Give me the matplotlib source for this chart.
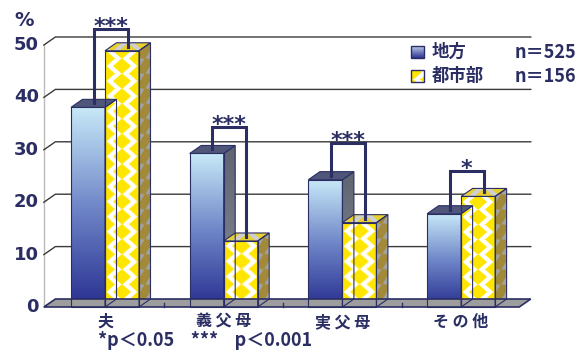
import numpy as np
import matplotlib.pyplot as plt
from matplotlib.patches import Polygon
from matplotlib.colors import LinearSegmentedColormap, to_rgb

# data (%)
categories = ['夫', '義 父 母', '実 父 母', 'そ の 他']
rural = [38.1, 29.3, 24.3, 17.8]    # 地方
urban = [48.9, 12.6, 16.1, 21.1]    # 都市部
bracket_top = [53.1, 34.4, 31.3, 26.0]
stars = ['***', '***', '***', '*']
yticks = [0, 10, 20, 30, 40, 50]
legend_names = ['地方', '都市部']
legend_n = ['n＝525', 'n＝156']
note = '*p＜0.05    ***    p＜0.001'

W, H = 582, 352
PX_X, PX_Y = 118.7, 5.24      # pixels per category / per percent
X0, Y0 = 105, 307             # pixel of first category centre / zero line
BW = 34 / PX_X
DX, DY = 11.5 / PX_X, 8 / PX_Y
NAVY = '#2b2e63'
YELLOW = np.array(to_rgb('#ffe600'))

plt.rcParams['font.family'] = ['DejaVu Sans', 'Noto Sans CJK JP']

fig = plt.figure(figsize=(W / 100, H / 100), dpi=100)
ax = fig.add_axes([0, 0, 1, 1])
ax.set_xlim(-X0 / PX_X, (W - X0) / PX_X)
ax.set_ylim(-(H - Y0) / PX_Y, Y0 / PX_Y)
ax.axis('off')


def p2d(x, y):
    return (x - X0) / PX_X, (Y0 - y) / PX_Y


def diamonds(w, h, bg, fg, shear=0.0, xc=0.0, yc=0.0):
    xs = np.arange(w) + 0.5 - xc
    ys = np.arange(h) + 0.5 - yc
    X, Y = np.meshgrid(xs, ys)
    Y = Y - shear * X
    best = np.full(X.shape, 9.0)
    for ox, oy in [(0, 0), (16, 7.5)]:
        u = (X - ox + 16) % 32 - 16
        v = (Y - oy + 7.5) % 15 - 7.5
        best = np.minimum(best, np.abs(u) / 9 + np.abs(v) / 8)
    a = np.clip((1 - best) * 6 + 0.5, 0, 1)[..., None]
    return a * np.array(fg) + (1 - a) * np.array(to_rgb(bg))


def face(pts, img=None, color=None, extent=None, lw=0.8):
    poly = Polygon(pts, closed=True, facecolor=color if color else 'none',
                   edgecolor=NAVY, lw=lw, zorder=3)
    ax.add_patch(poly)
    if img is not None:
        im = ax.imshow(img, extent=extent, origin='lower', aspect='auto',
                       interpolation='bilinear', zorder=2.9)
        im.set_clip_path(poly)
    return poly


# walls and floor
xl, xr = -0.515, 3.49
ax.plot([xl, xl], [0, 50], color='#bbbbbb', lw=1, zorder=1)
for v in yticks[1:]:
    ax.plot([xl, xl + DX, xr + DX], [v, v + DY, v + DY], color='#3a3a3a', lw=1, zorder=1)
for v in yticks:
    ax.text(xl - 5 / PX_X, v, str(v), ha='right', va='center', fontsize=13,
            fontweight='bold', color=NAVY)
face([(xl, 0), (xr, 0), (xr + DX, DY), (xl + DX, DY)], color='#9d9d9d', lw=1.2)
for k in range(1, 4):
    ax.plot([k - 0.5, k - 0.5], [0, 4 / PX_Y], color=NAVY, lw=1, zorder=3.1)
ax.text(*p2d(24, 20), '%', ha='center', va='center', fontsize=14,
        fontweight='bold', color=NAVY)

blue_cm = LinearSegmentedColormap.from_list('b', ['#283090', '#6f86c8', '#c8e9f8'])
side_cm = LinearSegmentedColormap.from_list('s', ['#878c96', '#5e6471'])
grad = np.linspace(0, 1, 256)[:, None]

for i, (r, u) in enumerate(zip(rural, urban)):
    # 地方 bar
    x0, x1 = i - BW, i
    face([(x0, 0), (x1, 0), (x1, r), (x0, r)], img=blue_cm(grad),
         extent=[x0, x1, 0, r])
    face([(x1, 0), (x1 + DX, DY), (x1 + DX, r + DY), (x1, r)],
         img=side_cm(grad), extent=[x1, x1 + DX, 0, r + DY])
    face([(x0, r), (x1, r), (x1 + DX, r + DY), (x0 + DX, r + DY)], color='#4f567a')
    # 都市部 bar
    x0, x1 = i, i + BW
    hpx = int(round(u * PX_Y))
    face([(x0, 0), (x1, 0), (x1, u), (x0, u)],
         img=diamonds(34, hpx, 'white', YELLOW, xc=17), extent=[x0, x1, 0, u])
    face([(x1, 0), (x1 + DX, DY), (x1 + DX, u + DY), (x1, u)],
         img=diamonds(12, hpx + 8, '#a3a3a3', to_rgb('#a28a3a'), shear=8 / 11.5, xc=6),
         extent=[x1, x1 + DX, 0, u + DY])
    face([(x0, u), (x1, u), (x1 + DX, u + DY), (x0 + DX, u + DY)],
         img=diamonds(46, 8, '#cfcfcf', to_rgb('#e8d030'), xc=23),
         extent=[x0, x1 + DX, u, u + DY])

    # significance bracket
    lx = i - BW / 2 + DX / 2
    rx = i + BW / 2 + DX / 2
    top = bracket_top[i]
    ax.plot([lx, lx, rx, rx], [r + DY / 2, top, top, u + DY / 2], color=NAVY,
            lw=2.2, zorder=5, solid_joinstyle='miter')
    ax.text((lx + rx) / 2, top - 4.5 / PX_Y, stars[i], ha='center', va='baseline',
            fontsize=16, fontweight='bold', color=NAVY, zorder=5)

    ax.text(i, p2d(0, 322)[1], categories[i], ha='center', va='center',
            fontsize=11.5, fontweight='bold', color=NAVY, family='Noto Sans CJK JP')

ax.text(*p2d(98, 340), note, ha='left', va='center', fontsize=13, color=NAVY,
        fontweight='bold', family='Noto Sans CJK JP')

# legend
for k, (name, n) in enumerate(zip(legend_names, legend_n)):
    yc = 52 + 24 * k
    xa, ya = p2d(411, yc + 6)
    xb, yb = p2d(424, yc - 6)
    if k == 0:
        img = LinearSegmentedColormap.from_list('l', ['#2a3390', '#c0cdec'])(grad)
    else:
        img = diamonds(13, 12, 'white', YELLOW, xc=2, yc=-5)
    face([(xa, ya), (xb, ya), (xb, yb), (xa, yb)], img=img, extent=[xa, xb, ya, yb], lw=1)
    ax.text(*p2d(432, yc), name, ha='left', va='center', fontsize=12.5,
            fontweight='bold', color=NAVY, family='Noto Sans CJK JP')
    ax.text(*p2d(515, yc), n, ha='left', va='center', fontsize=13,
            fontweight='bold', color=NAVY, family='Noto Sans CJK JP')

fig.savefig('out.png', dpi=100)
